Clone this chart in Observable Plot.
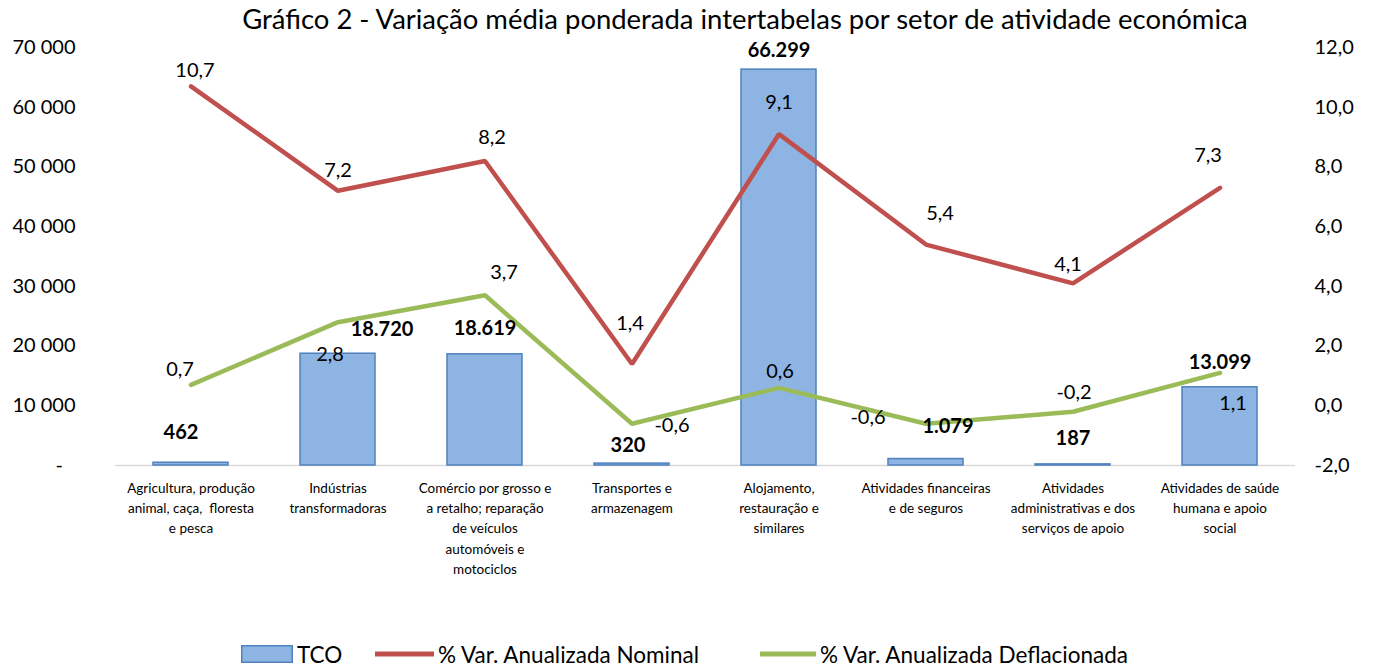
<!DOCTYPE html>
<html>
<head>
<meta charset="utf-8">
<script src="https://cdn.jsdelivr.net/npm/d3@7"></script>
<script src="https://cdn.jsdelivr.net/npm/@observablehq/plot@0.6"></script>
<style>
  html, body { margin: 0; padding: 0; background: #fff; }
  body { width: 1373px; height: 666px; position: relative; overflow: hidden; font-family: Lato, "Open Sans", sans-serif; color: #000; }
  #chart { position: absolute; left: 0; top: 0; }
  #title { position: absolute; top: 8px; left: 745px; transform: translateX(-50%); white-space: nowrap; font-size: 24px; line-height: 24px; }
  .leg { position: absolute; top: 641px; height: 26px; display: flex; align-items: center; font-size: 22.5px; white-space: nowrap; }
  .leg svg { margin-right: 4px; }
</style>
</head>
<body>
<div id="chart"></div>
<div id="title">Gráfico 2 - Variação média ponderada intertabelas por setor de atividade económica</div>
<div class="leg" style="left:241px"><svg width="52" height="18"><rect x="0.75" y="0.75" width="50.5" height="16.5" fill="#8EB4E3" stroke="#4F81BD" stroke-width="1.5"/></svg><span>TCO</span></div>
<div class="leg" style="left:375px"><svg width="59" height="18"><line x1="0" x2="59" y1="9" y2="9" stroke="#C0504D" stroke-width="5"/></svg><span>% Var. Anualizada Nominal</span></div>
<div class="leg" style="left:760px"><svg width="56" height="18"><line x1="0" x2="56" y1="9" y2="9" stroke="#9BBB59" stroke-width="5"/></svg><span>% Var. Anualizada Deflacionada</span></div>
<script>
// ---- data ----
const categories = [
  "Agricultura, produção\nanimal, caça,  floresta\ne pesca",
  "Indústrias\ntransformadoras",
  "Comércio por grosso e\na retalho; reparação\nde veículos\nautomóveis e\nmotociclos",
  "Transportes e\narmazenagem",
  "Alojamento,\nrestauração e\nsimilares",
  "Atividades financeiras\ne de seguros",
  "Atividades\nadministrativas e dos\nserviços de apoio",
  "Atividades de saúde\nhumana e apoio\nsocial"
];
const tco = [462, 18720, 18619, 320, 66299, 1079, 187, 13099];
const nominal = [10.7, 7.2, 8.2, 1.4, 9.1, 5.4, 4.1, 7.3];
const deflated = [0.7, 2.8, 3.7, -0.6, 0.6, -0.6, -0.2, 1.1];
const leftTicks = [0, 10000, 20000, 30000, 40000, 50000, 60000, 70000];
const rightTicks = [-2, 0, 2, 4, 6, 8, 10, 12];

// ---- label nudges (pixels) ----
const tcoLabelNudge = [[-10, -30], [44, -24], [0, -26], [-4, -18], [0, -19], [22, -32], [0, -26], [0, -25]];
const nominalLabelNudge = [[4, -16], [0, -20], [7, -23], [-2, -40], [0, -31], [14, -31], [-5, -19], [-12, -32]];
const deflatedLabelNudge = [[-11, -15], [-8, 32], [19, -23], [40, 2], [1, -16], [-58, -6], [1, -19], [13, 31]];

// right axis (-2..12) mapped onto the left scale (0..70000)
const rightMin = -2, rightMax = 12, leftMax = 70000;
const toLeft = v => (v - rightMin) / (rightMax - rightMin) * leftMax;
const fromLeft = d => d / leftMax * (rightMax - rightMin) + rightMin;

const rows = categories.map((c, i) => ({cat: c, tco: tco[i], nominal: nominal[i], deflated: deflated[i], i}));

const fmtBar = v => d3.format(",")(v).replace(/,/g, ".");
const fmtPct = v => v.toFixed(1).replace(".", ",");
const fmtLeft = d => d === 0 ? "-\u2002\u2009" : d3.format(",")(d).replace(/,/g, " ");

// fit title width
(function () {
  const t = document.getElementById("title");
  const ctx = document.createElement("canvas").getContext("2d");
  ctx.font = "100px Lato";
  const w = ctx.measureText(t.textContent).width;
  const fs = 100 * 1008 / w;
  t.style.fontSize = fs + "px";
  t.style.lineHeight = fs + "px";
  t.style.top = (30 - fs * 0.9) + "px";
})();

const labelMarks = [];
rows.forEach((r, i) => {
  labelMarks.push(Plot.text([r], {x: "cat", y: "tco", text: d => fmtBar(d.tco), dx: tcoLabelNudge[i][0], dy: tcoLabelNudge[i][1], fontSize: 20, fontWeight: "bold", fill: "#000"}));
  labelMarks.push(Plot.text([r], {x: "cat", y: d => toLeft(d.nominal), text: d => fmtPct(d.nominal), dx: nominalLabelNudge[i][0], dy: nominalLabelNudge[i][1], fontSize: 20, fill: "#000"}));
  labelMarks.push(Plot.text([r], {x: "cat", y: d => toLeft(d.deflated), text: d => fmtPct(d.deflated), dx: deflatedLabelNudge[i][0], dy: deflatedLabelNudge[i][1], fontSize: 20, fill: "#000"}));
});

const chart = Plot.plot({
  width: 1373,
  height: 636,
  marginLeft: 115,
  marginRight: 78,
  marginTop: 47,
  marginBottom: 171,
  style: {fontFamily: "Lato, 'Open Sans', sans-serif", color: "#000", background: "transparent", overflow: "visible"},
  x: {domain: categories, paddingInner: 0.49, paddingOuter: 0.245, axis: null},
  y: {domain: [0, leftMax], axis: null},
  marks: [
    Plot.axisY({ticks: leftTicks, tickFormat: fmtLeft, tickSize: 0, tickPadding: 40, fontSize: 20, textAnchor: "end", label: null}),
    Plot.axisY({anchor: "right", ticks: rightTicks.map(toLeft), tickFormat: d => fmtPct(fromLeft(d)), tickSize: 0, tickPadding: 19, fontSize: 20, textAnchor: "start", label: null}),
    Plot.ruleY([0], {stroke: "#d9d9d9", strokeWidth: 1.5}),
    Plot.barY(rows, {x: "cat", y: "tco", fill: "#8EB4E3", stroke: "#4F81BD", strokeWidth: 1.5}),
    Plot.line(rows, {x: "cat", y: d => toLeft(d.nominal), stroke: "#C0504D", strokeWidth: 4.5, strokeLinejoin: "miter"}),
    Plot.line(rows, {x: "cat", y: d => toLeft(d.deflated), stroke: "#9BBB59", strokeWidth: 4.5, strokeLinejoin: "miter"}),
    Plot.axisX({tickSize: 0, tickPadding: 13, fontSize: 13.5, lineHeight: 1.5, textAnchor: "middle", label: null}),
    ...labelMarks
  ]
});
document.getElementById("chart").appendChild(chart);
</script>
</body>
</html>
